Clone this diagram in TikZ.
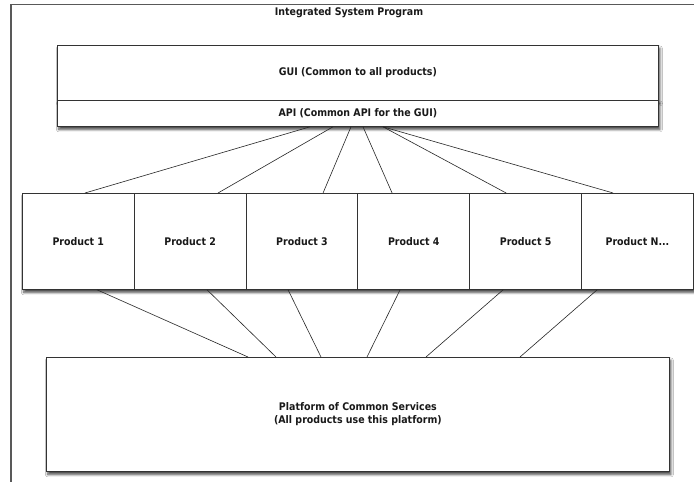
\documentclass[tikz,border=0pt]{standalone}
\usepackage{fontspec}
\setmainfont{DejaVu Sans Condensed}
\usetikzlibrary{shadows.blur}

\tikzset{
  frame/.style={draw=black!65, line width=1.3pt},
  block/.style={draw=black!80, line width=0.8pt, fill=white, inner sep=0pt,
    blur shadow={shadow xshift=1.5pt, shadow yshift=-3pt, shadow blur steps=6,
      shadow blur radius=2.5pt, shadow opacity=75}},
  plain/.style={draw=black!80, line width=0.8pt, fill=white, inner sep=0pt},
  link/.style={draw=black!85, line width=0.6pt},
  lbl/.style={font=\bfseries\fontsize{10.5}{13}\selectfont, text=black!90, align=center}
}

\begin{document}
\begin{tikzpicture}[x=1pt, y=-1pt]
  \useasboundingbox[fill=white] (0,0) rectangle (694,482);

  % outer program frame (continues past the right and bottom edges)
  \coordinate (fbl) at (11,482);
  \coordinate (ftl) at (11,4.5);
  \coordinate (ftr) at (694,4.5);
  \draw[frame] (fbl) -- (ftl) -- (ftr);
  \node[lbl] (title) at (349,13) {Integrated System Program};

  % GUI and API layers
  \node[block, minimum width=601pt, minimum height=55pt, anchor=north west] (gui) at (57,45) {};
  \node[block, minimum width=601pt, minimum height=26pt, anchor=north west] (api) at (57,100) {};
  \node[plain, minimum width=601pt, minimum height=55pt, anchor=north west] (guitop) at (57,45) {};
  \node[lbl] (guitext) at (guitop.center) {GUI (Common to all products)};
  \node[lbl] (apitext) at (api.center) {API (Common API for the GUI)};

  % product row
  \node[block, minimum width=671pt, minimum height=96pt, anchor=north west] (row) at (22,193) {};
  \foreach \i/\t in {1/{Product 1},2/{Product 2},3/{Product 3},4/{Product 4},5/{Product 5},6/{Product N{.}{.}{.}}}{
    \node[plain, minimum width=111.83pt, minimum height=96pt, anchor=north west, lbl]
      (p\i) at ({22+111.83*(\i-1)},193) {\t};
  }

  % platform
  \node[block, minimum width=623pt, minimum height=114pt, anchor=north west, lbl] (platform) at (46,357)
    {Platform of Common Services\\(All products use this platform)};

  % API -> products
  \foreach \s/\i/\e in {253/1/63, 276/2/84.2, 294/3/77.4, 306/4/34.6, 326/5/36.8, 326/6/32}{
    \draw[link] ([xshift=\s pt]api.south west) -- ([xshift=\e pt]p\i.north west);
  }

  % products -> platform
  \foreach \i/\s/\e in {1/75/202, 2/73.2/230, 3/42.4/275, 4/42.6/321, 5/33.8/380, 6/16/474}{
    \draw[link] ([xshift=\s pt]p\i.south west) -- ([xshift=\e pt]platform.north west);
  }
\end{tikzpicture}
\end{document}
